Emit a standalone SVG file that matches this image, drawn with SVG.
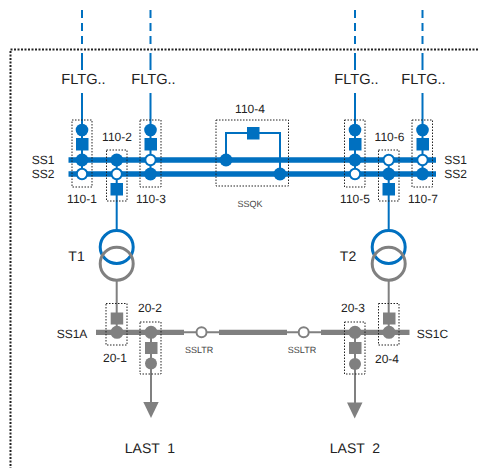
<svg xmlns="http://www.w3.org/2000/svg" width="478" height="468" viewBox="0 0 478 468">
<style>
text{font-family:"Liberation Sans",Arial,sans-serif;fill:#222;font-size:12px;text-anchor:middle;text-rendering:geometricPrecision}
.big{font-size:14.6px}.mid{font-size:14px}.sm{font-size:9px;fill:#444}
.box{fill:none;stroke:#222;stroke-width:1;stroke-dasharray:1.5 1.5}
.bl{stroke:#0070c0;fill:none}.gr{stroke:#808080;fill:none}
.bf{fill:#0070c0}.gf{fill:#808080}
.bh{fill:#fff;stroke:#0070c0;stroke-width:2}.gh{fill:#fff;stroke:#808080;stroke-width:2}
</style>
<g id="frame"><path d="M478 49.500H10.500V468" fill="none" stroke="#222" stroke-width="2" stroke-dasharray="2 1.500"/></g>
<g id="connectors">
<path class="bl" stroke-width="2" stroke-dasharray="8 5" d="M82 10V48M150.500 10V48M355 10V48M422.500 10V48"/>
<path class="bl" stroke-width="2" d="M82 53V70M150.500 53V70M355 53V70M422.500 53V70M82 93V174M150.500 93V174M355 93V174M422.500 93V174M116.700 160V230M388.700 160V230"/>
<path class="bl" stroke-width="2" d="M226 160V133H280V174"/>
<path class="bl" stroke-width="5.500" d="M68.500 160H436M68.500 174H436"/>
<path class="gr" stroke-width="2" d="M116.700 281V332M388.700 281V332M151 332V403M355 332V403M184 332.300H219M287 332.300H321"/>
<path class="gr" stroke-width="5.300" d="M96 332.300H184M219 332.300H287M321 332.300H409.500"/>
</g>
<g id="q110-1"><rect class="box" x="72" y="120" width="20" height="67"/><circle class="bf" cx="82" cy="130" r="6.300"/><rect class="bf" x="76" y="138" width="12.500" height="12.500"/><circle class="bf" cx="82" cy="160" r="6.500"/><circle class="bh" cx="82" cy="174" r="5.200"/><text x="82" y="203">110-1</text></g>
<g id="q110-2"><rect class="box" x="106.500" y="150" width="20.500" height="51"/><circle class="bf" cx="116.700" cy="160" r="6.500"/><circle class="bh" cx="116.700" cy="174" r="5.200"/><rect class="bf" x="110.500" y="183" width="12.500" height="12.500"/><text x="117" y="141">110-2</text></g>
<g id="q110-3"><rect class="box" x="140" y="120" width="21" height="67"/><circle class="bf" cx="150.500" cy="130" r="6.300"/><rect class="bf" x="144.500" y="138" width="12.500" height="12.500"/><circle class="bh" cx="150.500" cy="160" r="5.200"/><circle class="bf" cx="150.500" cy="174" r="6.500"/><text x="151" y="203">110-3</text></g>
<g id="q110-4"><rect class="box" x="216" y="120" width="72.500" height="66"/><circle class="bf" cx="226" cy="160" r="6.500"/><circle class="bf" cx="280" cy="174" r="6.500"/><rect class="bf" x="247" y="127" width="12.500" height="12.500"/><text x="250" y="113">110-4</text><text class="sm" x="250" y="207">SSQK</text></g>
<g id="q110-5"><rect class="box" x="344.500" y="120" width="20.500" height="67"/><circle class="bf" cx="355" cy="130" r="6.300"/><rect class="bf" x="349" y="138" width="12.500" height="12.500"/><circle class="bf" cx="355" cy="160" r="6.500"/><circle class="bh" cx="355" cy="174" r="5.200"/><text x="355" y="203">110-5</text></g>
<g id="q110-6"><rect class="box" x="378.500" y="150" width="20.500" height="51"/><circle class="bh" cx="388.700" cy="160" r="5.200"/><circle class="bf" cx="388.700" cy="174" r="6.500"/><rect class="bf" x="382.500" y="183" width="12.500" height="12.500"/><text x="389.500" y="141">110-6</text></g>
<g id="q110-7"><rect class="box" x="412" y="120" width="20.500" height="67"/><circle class="bf" cx="422.500" cy="130" r="6.300"/><rect class="bf" x="416.500" y="138" width="12.500" height="12.500"/><circle class="bh" cx="422.500" cy="160" r="5.200"/><circle class="bf" cx="422.500" cy="174" r="6.500"/><text x="423" y="203">110-7</text></g>
<g id="T1"><circle cx="116.700" cy="247" r="16.500" fill="none" stroke="#0070c0" stroke-width="3"/><circle cx="116.700" cy="263.700" r="16.500" fill="none" stroke="#808080" stroke-width="3"/><text class="mid" x="76.500" y="261">T1</text></g>
<g id="T2"><circle cx="388.700" cy="247" r="16.500" fill="none" stroke="#0070c0" stroke-width="3"/><circle cx="388.700" cy="263.700" r="16.500" fill="none" stroke="#808080" stroke-width="3"/><text class="mid" x="348" y="261">T2</text></g>
<g id="q20-1"><rect class="box" x="106" y="303.500" width="21" height="41.500"/><rect class="gf" x="110.700" y="312.500" width="12.500" height="12"/><circle class="gf" cx="117" cy="332.300" r="6.500"/><text x="115" y="362">20-1</text></g>
<g id="q20-2"><rect class="box" x="140" y="322" width="21" height="52"/><circle class="gf" cx="151" cy="332.300" r="6.500"/><rect class="gf" x="145" y="342" width="12.500" height="12"/><circle class="gf" cx="151" cy="363.500" r="6"/><text x="150" y="312">20-2</text></g>
<g id="q20-3"><rect class="box" x="344.500" y="322" width="20.500" height="52"/><circle class="gf" cx="355" cy="332.300" r="6.500"/><rect class="gf" x="349" y="342" width="12.500" height="12"/><circle class="gf" cx="355" cy="364" r="6"/><text x="353" y="312">20-3</text></g>
<g id="q20-4"><rect class="box" x="378.500" y="303.500" width="20.500" height="41.500"/><rect class="gf" x="383" y="312.500" width="12.500" height="12"/><circle class="gf" cx="389" cy="332.300" r="6.500"/><text x="387" y="363">20-4</text></g>
<g id="ssltr1"><circle class="gh" cx="201.500" cy="332.300" r="5"/><text class="sm" x="199.200" y="353">SSLTR</text></g>
<g id="ssltr2"><circle class="gh" cx="303.700" cy="332.300" r="5"/><text class="sm" x="302" y="353">SSLTR</text></g>
<g id="load1"><path class="gf" d="M143.300 402H158.700L151 418Z"/><text class="mid" x="150" y="453" xml:space="preserve">LAST  1</text></g>
<g id="load2"><path class="gf" d="M347 402.500H362.500L354.700 418.500Z"/><text class="mid" x="355" y="453" xml:space="preserve">LAST  2</text></g>
<g id="labels">
<text class="big" x="83.500" y="84">FLTG..</text><text class="big" x="153.500" y="84">FLTG..</text><text class="big" x="356.500" y="84">FLTG..</text><text class="big" x="423.500" y="84">FLTG..</text>
<text x="43" y="164">SS1</text><text x="43" y="178">SS2</text><text x="455.500" y="164">SS1</text><text x="455.500" y="178">SS2</text>
<text x="72" y="338">SS1A</text><text x="432.500" y="338">SS1C</text>
</g>
</svg>
